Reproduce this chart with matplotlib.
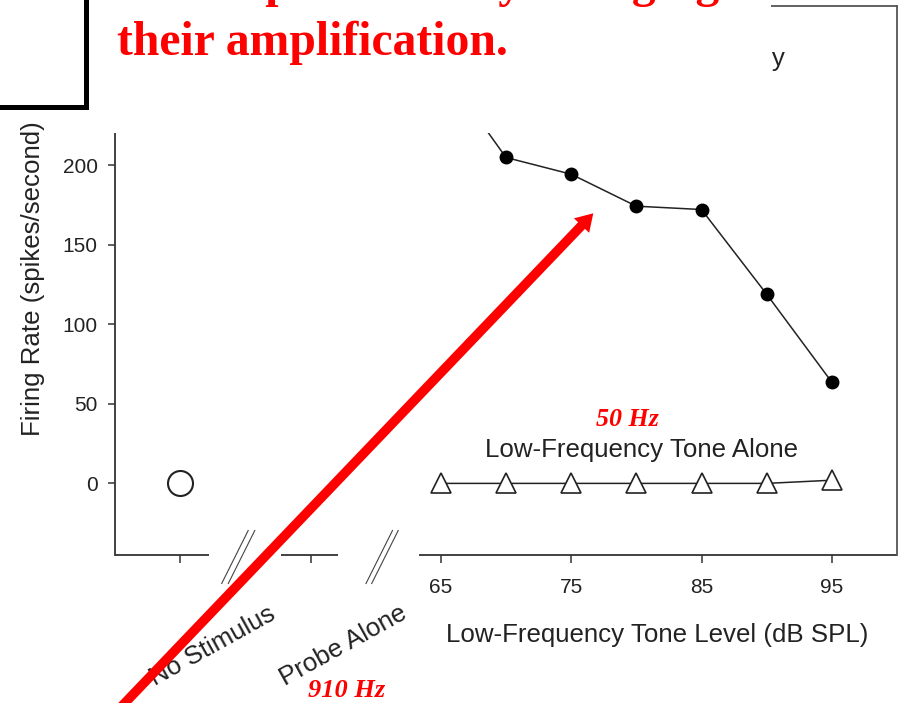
import matplotlib
matplotlib.use("Agg")
import matplotlib.pyplot as plt
from matplotlib.patches import Rectangle, FancyArrow

# ---- data -------------------------------------------------------------
tone_levels = [65, 70, 75, 80, 85, 90, 95]                 # dB SPL
probe_plus_tone = [262, 204.8, 194.3, 174.2, 172.1, 118.9, 63.6]
tone_alone = [0, 0, 0, 0, 0, 0, 2]
no_stimulus_pos = [45]
no_stimulus_rate = [0]
category_pos = [45, 55]
category_labels = ["No Stimulus", "Probe Alone"]
level_ticks = [65, 75, 85, 95]
rate_ticks = [0, 50, 100, 150, 200]

W, H, DPI = 901, 703, 100
INK = "#222222"
SANS = "Liberation Sans"
SERIF = "Liberation Serif"

fig = plt.figure(figsize=(W / DPI, H / DPI), dpi=DPI, facecolor="white")

# main plotting area (pixel box: x 115..897, y 6..555)
ax = fig.add_axes([115 / W, (H - 555) / H, 782 / W, 549 / H])
ax.set_xlim(40, 100)
ax.set_ylim(-45, 300)

ax.plot(tone_levels, probe_plus_tone, "-o", color=INK, lw=1.1,
        ms=9, mfc="black", mec="black", zorder=3)
ax.plot(tone_levels, tone_alone, "-^", color=INK, lw=1.1,
        ms=14.5, mfc="white", mec=INK, mew=1.2, zorder=3)
ax.plot(no_stimulus_pos, no_stimulus_rate, "o", ms=18, mfc="white",
        mec=INK, mew=1.5, zorder=3)

# frame
for side in ("left", "right", "top"):
    ax.spines[side].set_color("#333333")
    ax.spines[side].set_linewidth(1.3)
ax.spines["right"].set_color("#555555")
ax.spines["top"].set_color("#555555")
ax.spines["bottom"].set_visible(False)

# broken bottom axis
xt = ax.get_xaxis_transform()
for a, b in [(40, 47.2), (52.7, 57.1), (63.3, 100)]:
    ax.plot([a, b], [0, 0], color="#333333", lw=1.3, transform=xt,
            clip_on=False, solid_capstyle="butt")

ax.set_xticks(category_pos + level_ticks)
ax.set_xticklabels([""] * len(category_pos) + [str(v) for v in level_ticks])
ax.set_yticks(rate_ticks)
ax.set_yticklabels([str(v) for v in rate_ticks])
ax.tick_params(axis="x", direction="out", length=5.8, width=1.1,
               color="#333333", pad=11, labelsize=15, labelcolor=INK)
ax.tick_params(axis="y", direction="out", length=5, width=1.1,
               color="#333333", pad=7.5, labelsize=15, labelcolor=INK,
               right=False)
for lab in ax.get_xticklabels() + ax.get_yticklabels():
    lab.set_family(SANS)

ax.set_xlabel("Low-Frequency Tone Level (dB SPL)", fontsize=18.6,
              family=SANS, color=INK, va="baseline")
ax.xaxis.set_label_coords((657.5 - 115) / 782, (555 - 641.7) / 549)
ax.set_ylabel("Firing Rate (spikes/second)", fontsize=18.6,
              family=SANS, color=INK)
ax.yaxis.set_label_coords((45 - 115) / 782, (555 - 278.5) / 549)

# condition labels under the broken part of the axis
for pos, text in zip(category_pos, category_labels):
    ax.annotate(text, xy=(pos, 0), xycoords=xt, xytext=(23.5, -65.5),
                textcoords="offset points", rotation=29,
                rotation_mode="anchor", ha="center", va="center",
                fontsize=18.6, family=SANS, color=INK, annotation_clip=False)

ax.text(80.37, 16.4, "Low-Frequency Tone Alone", ha="center",
        va="baseline", fontsize=18.6, family=SANS, color=INK)
ax.text(79.3, 36.0, "50 Hz", ha="center", va="baseline", fontsize=18.7,
        family=SERIF, weight="bold", style="italic", color="red")
ax.text(91.4, 262.5, "Probe + Low-Frequency", ha="right", va="baseline",
        fontsize=18.6, family=SANS, color=INK)

# ---- slide layer drawn over the chart (pixel coordinates) -------------
ov = fig.add_axes([0, 0, 1, 1], zorder=5)
ov.set_xlim(0, W)
ov.set_ylim(H, 0)
ov.axis("off")

ov.add_patch(Rectangle((88, -5), 683, 138, fc="white", ec="none"))
ov.add_patch(Rectangle((-20, -20), 105.5, 127, fc="white", ec="black",
                       lw=3.6))

title_kw = dict(color="red", fontsize=34.3, family=SERIF, weight="bold",
                va="baseline", ha="left")
ov.text(47, -3.0, "the tone is perceived by changing", **title_kw)
ov.text(116.7, 55, "their amplification.", **title_kw)

# break marks on the x axis
for x0 in (221.7, 228.3, 366.0, 371.7):
    ov.plot([x0, x0 + 26.5], [583.5, 530.5], color="#444444", lw=0.8)

ov.add_patch(FancyArrow(99, 730, 593.3 - 99, 213.3 - 730, width=9.5,
                        head_width=21, head_length=17,
                        length_includes_head=True, color="red", lw=0))

ov.text(346.7, 697, "910 Hz", ha="center", va="baseline", fontsize=19,
        family=SERIF, weight="bold", style="italic", color="red")

fig.savefig("out.png", dpi=DPI, facecolor="white")
